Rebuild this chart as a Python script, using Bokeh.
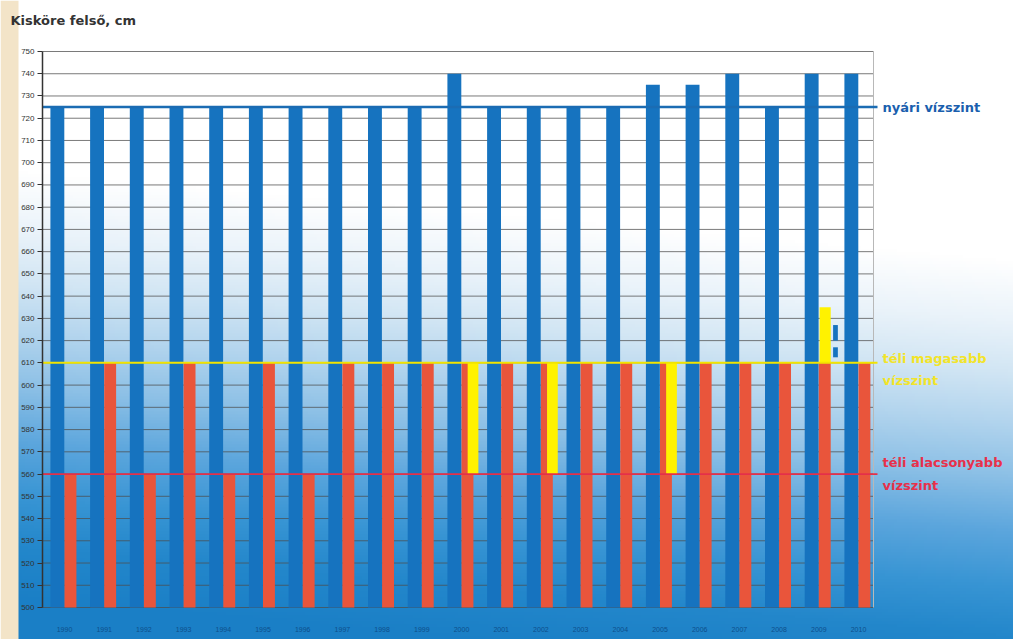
import numpy as np
from bokeh.plotting import figure
from bokeh.models import Range1d, Label, SingleIntervalTicker, FixedTicker
from bokeh.embed import file_html
from bokeh.resources import INLINE

# ---- data ----
years = ["1990", "1991", "1992", "1993", "1994", "1995", "1996", "1997", "1998", "1999",
         "2000", "2001", "2002", "2003", "2004", "2005", "2006", "2007", "2008", "2009", "2010"]
summer_level = [725, 725, 725, 725, 725, 725, 725, 725, 725, 725,
                740, 725, 725, 725, 725, 735, 735, 740, 725, 740, 740]
winter_level = [560, 610, 560, 610, 560, 610, 560, 610, 610, 610,
                610, 610, 610, 610, 610, 610, 610, 610, 610, 610, 610]
raised_years = ["2000", "2002", "2005"]
raised_low = [560, 560, 560]
raised_high = [610, 610, 610]
extra_years = ["2009"]
extra_low = [610]
extra_high = [635]
bits_years = ["2009", "2009"]
bits_low = [612.5, 620]
bits_high = [617, 627]
summer_ref = 725
winter_high_ref = 610
winter_low_ref = 560
base_level = 500
top_level = 750
tick_step = 10

title_text = "Kisköre felső, cm"
summer_label = "nyári vízszint"
winter_high_label = "téli magasabb\nvízszint"
winter_low_label = "téli alacsonyabb\nvízszint"

# ---- layout / styles ----
W, H = 1013, 639
PX_PER_GROUP = 39.7          # horizontal pixels per year group
FIRST_GROUP_PX = 64          # pixel x of first group centre
TOP_PX, BOTTOM_PX = 51, 607  # pixel y of top_level / base_level
PX_PER_CM = (BOTTOM_PX - TOP_PX) / (top_level - base_level)
BLUE = "#1673bf"
RED = "#e9553b"
YELLOW = "#fff200"

x_start = -FIRST_GROUP_PX / PX_PER_GROUP
x_end = (W - FIRST_GROUP_PX) / PX_PER_GROUP
y_end = top_level + TOP_PX / PX_PER_CM
y_start = top_level - (H - TOP_PX) / PX_PER_CM


def px_to_x(px):
    return (px - FIRST_GROUP_PX) / PX_PER_GROUP


def py_to_y(py):
    return top_level - (py - TOP_PX) / PX_PER_CM


frame_left = px_to_x(42)
frame_right = px_to_x(873)

p = figure(width=W, height=H, output_backend="svg", toolbar_location=None,
           x_range=Range1d(x_start, x_end), y_range=Range1d(y_start, y_end),
           min_border_left=0, min_border_right=0, min_border_top=0, min_border_bottom=0)
p.outline_line_color = None
p.grid.visible = False
p.background_fill_color = "white"
p.border_fill_color = "white"

# ---- background gradient (decoration) ----
stop_px = [0, 170, 230, 280, 330, 385, 440, 495, 545, 600, 700]
stop_col = ["#ffffff", "#ffffff", "#eaf3fa", "#d2e6f4", "#b3d5ee", "#8cc0e6",
            "#5ca6dd", "#3895d4", "#2387cb", "#1a7fc6", "#1a7fc6"]
rgb = np.array([[int(c[i:i + 2], 16) for i in (1, 3, 5)] for c in stop_col], dtype=float)
gw, gh = W // 3, H // 3
gx = (np.arange(gw) + 0.5) * W / gw
gy = (np.arange(gh) + 0.5) * H / gh
GX, GY = np.meshgrid(gx, gy)
T = GY - 0.09 * GX
img = np.zeros((gh, gw), dtype=np.uint32)
view = img.view(dtype=np.uint8).reshape((gh, gw, 4))
for k in range(3):
    view[:, :, k] = np.interp(T, stop_px, rgb[:, k]).astype(np.uint8)
view[:, :, 3] = 255
beige = GX < 18
view[beige, 0], view[beige, 1], view[beige, 2] = 243, 228, 200
img = img[::-1]
p.image_rgba(image=[img], x=x_start, y=y_start, dw=x_end - x_start, dh=y_end - y_start)

# ---- grid lines ----
grid_vals = list(range(base_level, top_level + 1, tick_step))
p.segment(x0=frame_left, x1=frame_right, y0=grid_vals, y1=grid_vals,
          line_color="#4d4d4d", line_alpha=0.75, line_width=1)
p.segment(x0=frame_right, x1=frame_right, y0=base_level, y1=top_level,
          line_color="#b8b8b8", line_width=1)

# ---- bars ----
pos = {y: i for i, y in enumerate(years)}
xs = list(range(len(years)))
p.vbar(x=[x - 0.18 for x in xs], width=0.35, bottom=base_level, top=summer_level,
       fill_color=BLUE, line_color=None)
p.vbar(x=[x + 0.15 for x in xs], width=0.3, bottom=base_level, top=winter_level,
       fill_color=RED, line_color=None)
p.vbar(x=[pos[y] + 0.29 for y in raised_years], width=0.27, bottom=raised_low, top=raised_high,
       fill_color=YELLOW, line_color=None)
p.vbar(x=[pos[y] + 0.16 for y in extra_years], width=0.28, bottom=extra_low, top=extra_high,
       fill_color=YELLOW, line_color=None)
p.vbar(x=[pos[y] + 0.42 for y in bits_years], width=0.12, bottom=bits_low, top=bits_high,
       fill_color=BLUE, line_color=None)

# ---- reference lines ----
line_end = px_to_x(877)
p.segment(x0=frame_left, x1=line_end, y0=summer_ref, y1=summer_ref, line_color="#1b6cb3", line_width=2.5)
p.segment(x0=frame_left, x1=line_end, y0=winter_high_ref, y1=winter_high_ref, line_color="#f2e400", line_width=2)
p.segment(x0=frame_left, x1=line_end, y0=winter_low_ref, y1=winter_low_ref, line_color="#e4304a", line_width=1.8)

# ---- axes ----
ya = p.yaxis[0]
ya.fixed_location = frame_left
ya.bounds = (base_level, top_level)
ya.ticker = SingleIntervalTicker(interval=tick_step, num_minor_ticks=0)
ya.axis_line_color = "#333333"
ya.axis_line_width = 1.5
ya.major_tick_out = 5
ya.major_tick_in = 0
ya.major_tick_line_color = "#333333"
ya.minor_tick_line_color = None
ya.major_label_text_font = "Liberation Sans"
ya.major_label_text_font_size = "8px"
ya.major_label_text_color = "#333333"
ya.major_label_standoff = 3

xa = p.xaxis[0]
xa.fixed_location = base_level
xa.bounds = (frame_left, frame_right)
xa.ticker = FixedTicker(ticks=xs)
xa.major_label_overrides = {i: y for i, y in enumerate(years)}
xa.axis_line_color = None
xa.major_tick_line_color = None
xa.minor_tick_line_color = None
xa.major_label_text_font = "Liberation Sans"
xa.major_label_text_font_size = "7px"
xa.major_label_text_color = "#0d4f8c"
xa.major_label_standoff = 13

# ---- texts ----
p.add_layout(Label(x=px_to_x(10), y=py_to_y(20), text=title_text, text_font="DejaVu Sans",
                   text_font_style="bold", text_font_size="13px", text_color="#333333",
                   text_baseline="middle"))
p.add_layout(Label(x=px_to_x(882), y=summer_ref, text=summer_label, text_font="DejaVu Sans",
                   text_font_style="bold", text_font_size="13px", text_color="#1a5fae",
                   text_baseline="middle"))
p.add_layout(Label(x=px_to_x(882), y=winter_high_ref - 3, text=winter_high_label, text_font="DejaVu Sans",
                   text_font_style="bold", text_font_size="13px", text_color="#f2e42a",
                   text_baseline="middle", text_line_height=1.5))
p.add_layout(Label(x=px_to_x(882), y=winter_low_ref, text=winter_low_label, text_font="DejaVu Sans",
                   text_font_style="bold", text_font_size="13px", text_color="#e8304a",
                   text_baseline="middle", text_line_height=1.5))

open("out.html", "w").write(file_html(p, INLINE))
